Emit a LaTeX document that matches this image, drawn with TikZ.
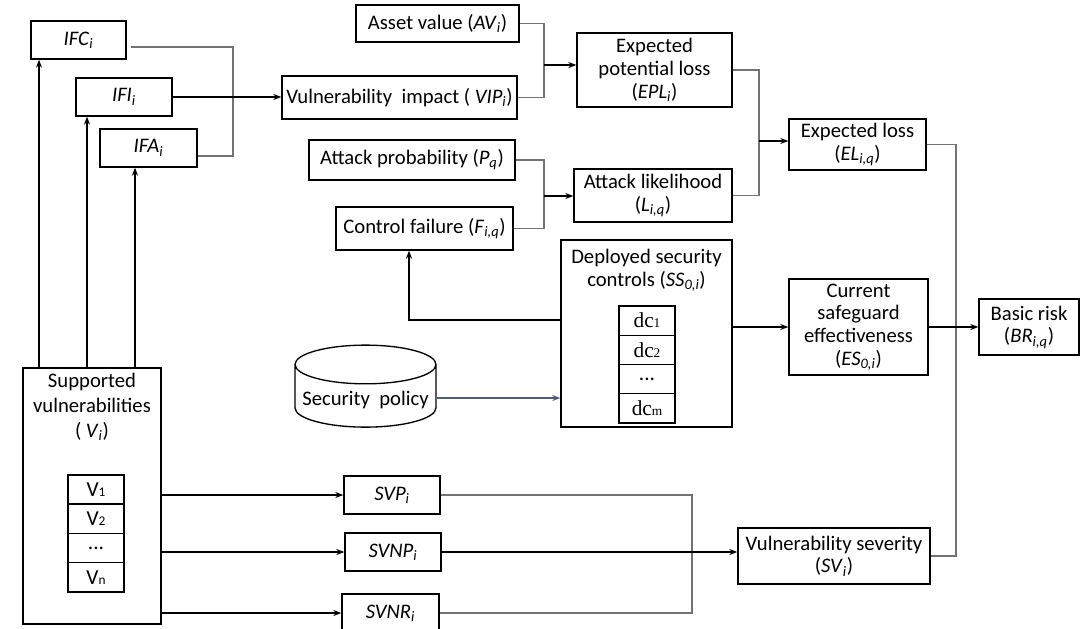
\documentclass[tikz,border=0pt]{standalone}
\usepackage{fontspec}
\setmainfont{Carlito}
\newfontfamily\dcfont{Liberation Serif}
\usetikzlibrary{calc,shapes.geometric,arrows.meta}
\definecolor{policy}{RGB}{75,95,125}
\newcommand{\sbi}[1]{\textsubscript{\textit{#1}}}
\newcommand{\low}[1]{{\fontsize{10}{10}\selectfont #1}}

\begin{document}
\begin{tikzpicture}[x=0.75pt,y=-0.75pt,line width=1pt,>={Stealth[length=6pt,width=4.5pt]},
    box/.style={draw,align=center,inner sep=1pt,font=\fontsize{15.5}{17}\selectfont},
    sz/.style 2 args={minimum width=#1*0.75pt,minimum height=#2*0.75pt},
    cell/.style={draw,minimum width=42pt,minimum height=21.9pt,inner sep=0pt,font=\fontsize{16}{16}\selectfont},
    link/.style={draw=black!55}]
  \useasboundingbox (0,0) rectangle (1081,628);

  % impact factors
  \node[box,sz={95}{38}] (ifc) at (78.5,40) {\textit{IFC}\sbi{i}};
  \node[box,sz={96}{38}] (ifi) at (124,97) {\textit{IFI}\sbi{i}};
  \node[box,sz={97}{38}] (ifa) at (148.5,148) {\textit{IFA}\sbi{i}};

  % supported vulnerabilities
  \node[box,sz={138}{256},label={[box,draw=none,anchor=north,yshift=-3pt,font=\fontsize{15.5}{18.5}\selectfont]north:{Supported\\vulnerabilities\\( \textit{V}\sbi{i})}}] (sv) at (92,496) {};
  \node[cell] (v1) at (96,489.5) {V\low{1}};
  \node[cell] (v2) at (96,518.75) {V\low{2}};
  \node[cell] (vdots) at (96,548) {...};
  \node[cell] (vn) at (96,577.25) {V\low{n}};

  \node[box,sz={163}{37}] (av) at (437.5,23.5) {Asset value (\textit{AV}\sbi{i})};
  \node[box,sz={235}{43}] (vip) at (399.5,97.5) {Vulnerability~ impact ( \textit{VIP}\sbi{i})};
  \node[box,sz={155}{74}] (epl) at (654.5,70) {Expected\\potential loss\\(\textit{EPL}\sbi{i})};
  \node[box,sz={206}{40}] (ap) at (412,160) {Attack probability (\textit{P}\sbi{q})};
  \node[box,sz={177}{43}] (cf) at (424.5,228.5) {Control failure (\textit{F}\sbi{i,q})};
  \node[box,sz={158}{53}] (al) at (653,195.5) {Attack likelihood\\(\textit{L}\sbi{i,q})};
  \node[box,sz={137}{51}] (el) at (857.5,144.5) {Expected loss\\(\textit{EL}\sbi{i,q})};

  % deployed controls
  \node[box,sz={171}{187},label={[box,draw=none,anchor=north,yshift=-6pt]north:{Deployed security\\controls (\textit{SS}\sbi{0,i})}}] (dsc) at (646.5,333.5) {};
  \node[cell] (dc1) at (647,320.6) {\dcfont dc\low{1}};
  \node[cell] (dc2) at (647,349.9) {\dcfont dc\low{2}};
  \node[cell] (dcdots) at (647,379.1) {...};
  \node[cell] (dcm) at (647,408.4) {\dcfont dc\low{m}};

  \node[box,sz={139}{96}] (es) at (858.5,327) {Current\\safeguard\\effectiveness\\(\textit{ES}\sbi{0,i})};
  \node[box,sz={100}{56}] (br) at (1029,327) {Basic risk\\(\textit{BR}\sbi{i,q})};
  \node[box,cylinder,shape border rotate=90,aspect=0.3,sz={141}{82},text depth=-9pt] (sp) at (365.5,398) {Security~ policy};

  \node[box,sz={96}{38}] (svp) at (392,495) {\textit{SVP}\sbi{i}};
  \node[box,sz={96}{38}] (svnp) at (393,552) {\textit{SVNP}\sbi{i}};
  \node[box,sz={97}{38}] (svnr) at (390.5,613) {\textit{SVNR}\sbi{i}};
  \node[box,sz={192}{56}] (vs) at (834,556) {Vulnerability severity\\(\textit{SV}\sbi{i})};

  % junctions
  \coordinate (ifx) at (233,0);
  \coordinate (up1) at (39,0);
  \coordinate (up2) at (87,0);
  \coordinate (up3) at (135,0);
  \coordinate (avj) at (544,65);
  \coordinate (apj) at (544,196);
  \coordinate (elj) at (759,141);
  \coordinate (brj) at (956,327);
  \coordinate (svj) at (692,552);
  \coordinate (cfup) at (409,320);

  \draw[->] (up1 |- sv.north) -- (up1 |- ifc.south);
  \draw[->] (up2 |- sv.north) -- (up2 |- ifi.south);
  \draw[->] (up3 |- sv.north) -- (up3 |- ifa.south);
  \draw[link] ($(ifc.east)+(4,7)$) -| ($(ifx |- ifa.east)+(0,8)$) -- ($(ifa.east)+(0,8)$);
  \draw[->] (ifi.east) -- (vip.west |- ifi.east);

  \draw[link] (av.east) -| (avj) |- (vip.east);
  \draw[->] (avj) -- (epl.west |- avj);
  \draw[link] (ap.east) -| (apj) |- (cf.east);
  \draw[->] (apj) -- (al.west |- apj);
  \draw[link] (epl.east) -| (elj) |- (al.east);
  \draw[->] (elj) -- (el.west |- elj);
  \draw[link] (el.east) -| (brj) |- (vs.east);
  \draw[->] (es.east) -- (br.west);
  \draw[->] (dsc.east |- es.west) -- (es.west);
  \draw[->] (dsc.west |- cfup) -| (cfup |- cf.south);
  \draw[->,draw=policy] (sp.east) -- (dsc.west |- sp.east);

  \draw[->] (sv.east |- svp.west) -- (svp.west);
  \draw[->] (sv.east |- svnp.west) -- (svnp.west);
  \draw[->] (sv.east |- svnr.west) -- (svnr.west);
  \draw[link] (svp.east) -| (svj) |- (svnr.east);
  \draw[->] (svnp.east) -- (vs.west |- svnp.east);
\end{tikzpicture}
\end{document}
